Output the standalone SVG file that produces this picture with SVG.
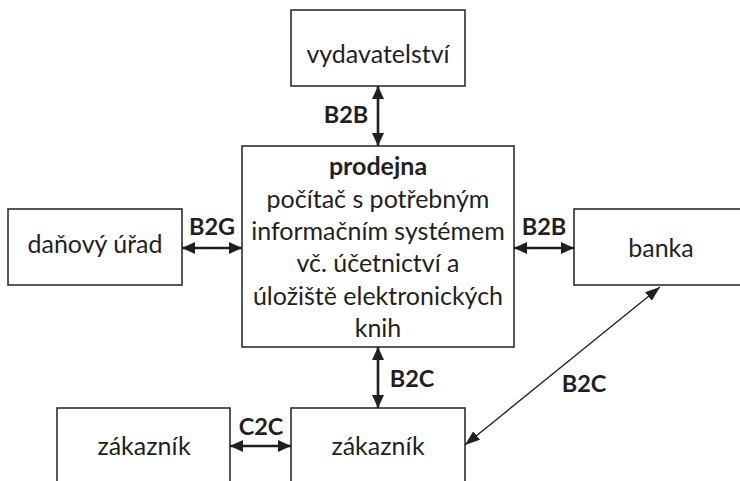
<svg xmlns="http://www.w3.org/2000/svg" width="740" height="481" viewBox="0 0 740 481">
  <style>
    .box { fill: #ffffff; stroke: #231f20; stroke-width: 1.5; }
    .t { font-family: Lato, "Open Sans", "Liberation Sans", sans-serif; font-size: 25px; fill: #231f20; text-anchor: middle; }
    .b { font-weight: bold; }
    .lbl { font-size: 23.5px; }
    .thick { stroke: #231f20; stroke-width: 2.6; fill: none; marker-start: url(#headT); marker-end: url(#headT); }
    .thin { stroke: #231f20; stroke-width: 1.3; fill: none; marker-start: url(#headS); marker-end: url(#headS); }
  </style>
  <defs>
    <marker id="headT" viewBox="0 0 13 12" refX="13" refY="6" markerWidth="13" markerHeight="12" markerUnits="userSpaceOnUse" orient="auto-start-reverse">
      <path d="M0,0 L13,6 L0,12 z" fill="#231f20"/>
    </marker>
    <marker id="headS" viewBox="0 0 15 11" refX="15" refY="5.5" markerWidth="15" markerHeight="11" markerUnits="userSpaceOnUse" orient="auto-start-reverse">
      <path d="M0,0 L15,5.5 L0,11 z" fill="#231f20"/>
    </marker>
  </defs>
  <rect width="740" height="481" fill="#ffffff"/>

  <!-- connectors with their relation labels -->
  <g id="connectors">
    <line class="thick" x1="378" y1="86" x2="378" y2="146"/>
    <line class="thick" x1="182" y1="248" x2="242" y2="248"/>
    <line class="thick" x1="514" y1="248" x2="574" y2="248"/>
    <line class="thick" x1="378" y1="347" x2="378" y2="408"/>
    <line class="thick" x1="230" y1="446" x2="291" y2="446"/>
    <line class="thin" x1="465" y1="445" x2="660" y2="287"/>
    <text class="t b lbl" x="346" y="123">B2B</text>
    <text class="t b lbl" x="212" y="235">B2G</text>
    <text class="t b lbl" x="544" y="235">B2B</text>
    <text class="t b lbl" x="412" y="387">B2C</text>
    <text class="t b lbl" x="584" y="392">B2C</text>
    <text class="t b lbl" x="261" y="435">C2C</text>
  </g>

  <g id="vydavatelstvi">
    <rect class="box" x="291" y="10" width="174" height="76"/>
    <text class="t" x="378" y="63">vydavatelství</text>
  </g>

  <g id="prodejna">
    <rect class="box" x="242" y="146" width="272" height="201"/>
    <text class="t b" x="378" y="175">prodejna</text>
    <text class="t" x="378" y="208">počítač s potřebným</text>
    <text class="t" x="378" y="240">informačním systémem</text>
    <text class="t" x="378" y="272">vč. účetnictví a</text>
    <text class="t" x="378" y="305">úložiště elektronických</text>
    <text class="t" x="378" y="337">knih</text>
  </g>

  <g id="danovy-urad">
    <rect class="box" x="8" y="209" width="174" height="76"/>
    <text class="t" x="95" y="253">daňový úřad</text>
  </g>

  <g id="banka">
    <rect class="box" x="574" y="209" width="180" height="76"/>
    <text class="t" x="661" y="257">banka</text>
  </g>

  <g id="zakaznik-1">
    <rect class="box" x="57" y="408" width="173" height="90"/>
    <text class="t" x="144" y="455">zákazník</text>
  </g>

  <g id="zakaznik-2">
    <rect class="box" x="291" y="408" width="174" height="90"/>
    <text class="t" x="378" y="455">zákazník</text>
  </g>
</svg>
